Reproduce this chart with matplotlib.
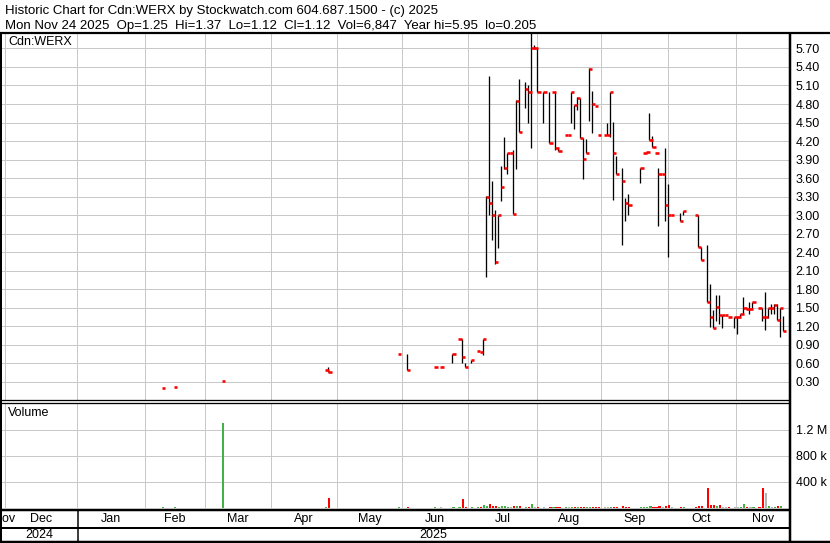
import numpy as np
import matplotlib
matplotlib.use('Agg')
import matplotlib.pyplot as plt
from matplotlib.lines import Line2D

plt.rcParams['font.family'] = ['Liberation Sans', 'DejaVu Sans']
plt.rcParams['font.size'] = 9

# daily bars (only days with trades)
dates = ['2025-02-10', '2025-02-14', '2025-03-10', '2025-04-25', '2025-04-28',
         '2025-05-29', '2025-06-03', '2025-06-16', '2025-06-18', '2025-06-24',
         '2025-06-26', '2025-06-27', '2025-06-30', '2025-07-02', '2025-07-04',
         '2025-07-07', '2025-07-08', '2025-07-09', '2025-07-10', '2025-07-11',
         '2025-07-14', '2025-07-15', '2025-07-16', '2025-07-17', '2025-07-18',
         '2025-07-21', '2025-07-22', '2025-07-23', '2025-07-24', '2025-07-28',
         '2025-07-29', '2025-07-30', '2025-07-31', '2025-08-01', '2025-08-05',
         '2025-08-07', '2025-08-08', '2025-08-11', '2025-08-12', '2025-08-14',
         '2025-08-15', '2025-08-18', '2025-08-19', '2025-08-20', '2025-08-21',
         '2025-08-22', '2025-08-25', '2025-08-26', '2025-08-27', '2025-08-28',
         '2025-08-29', '2025-09-02', '2025-09-03', '2025-09-04', '2025-09-05',
         '2025-09-08', '2025-09-10', '2025-09-11', '2025-09-12', '2025-09-18',
         '2025-09-19', '2025-09-22', '2025-09-23', '2025-09-24', '2025-09-25',
         '2025-09-26', '2025-09-29', '2025-09-30', '2025-10-01', '2025-10-02',
         '2025-10-07', '2025-10-08', '2025-10-14', '2025-10-15', '2025-10-16',
         '2025-10-20', '2025-10-21', '2025-10-22', '2025-10-23', '2025-10-24',
         '2025-10-27', '2025-10-28', '2025-10-29', '2025-10-31', '2025-11-03',
         '2025-11-04', '2025-11-05', '2025-11-06', '2025-11-07', '2025-11-10',
         '2025-11-12', '2025-11-13', '2025-11-14', '2025-11-17', '2025-11-18',
         '2025-11-19', '2025-11-20', '2025-11-21', '2025-11-24']
high = [0.205, 0.21, 0.32, 0.49, 0.54,
        0.745, 0.755, 0.54, 0.54, 0.75,
        1.00, 1.00, 0.60, 0.66, 0.80,
        0.78, 1.00, 3.31, 5.25, 3.55,
        3.08, 3.01, 3.79, 4.26, 4.00,
        4.00, 4.05, 4.86, 5.20, 5.15,
        5.11, 5.95, 5.75, 5.70, 5.00,
        5.00, 5.00, 5.00, 4.09, 4.30,
        4.30, 5.00, 4.78, 4.91, 4.90,
        4.25, 4.24, 5.39, 5.01, 4.77,
        4.30, 4.30, 4.49, 5.00, 4.51,
        3.96, 3.76, 3.27, 3.34, 3.76,
        4.00, 4.02, 4.66, 4.28, 4.00,
        3.76, 3.66, 4.08, 3.51, 3.00,
        3.03, 3.06, 3.00, 3.00, 2.48,
        2.51, 1.89, 1.46, 1.70, 1.70,
        1.38, 1.38, 1.35, 1.35, 1.35,
        1.40, 1.67, 1.48, 1.60, 1.60,
        1.50, 1.50, 1.75, 1.50, 1.56,
        1.56, 1.56, 1.50, 1.37]
low = [0.205, 0.21, 0.32, 0.49, 0.455,
       0.745, 0.49, 0.54, 0.54, 0.60,
       1.00, 0.60, 0.545, 0.60, 0.80,
       0.78, 0.74, 2.00, 3.00, 2.60,
       2.21, 2.47, 3.23, 3.75, 3.66,
       4.00, 3.02, 3.74, 4.34, 4.74,
       4.49, 4.09, 5.70, 5.00, 4.49,
       4.17, 5.00, 4.05, 4.04, 4.30,
       4.30, 4.49, 4.40, 4.70, 4.25,
       3.59, 4.00, 4.53, 4.33, 4.77,
       4.30, 4.30, 4.30, 4.27, 3.25,
       3.67, 2.51, 2.90, 3.00, 3.52,
       4.00, 4.02, 4.21, 4.10, 4.00,
       2.82, 3.66, 2.90, 2.33, 3.00,
       2.90, 3.00, 3.00, 2.48, 2.28,
       1.59, 1.19, 1.17, 1.29, 1.23,
       1.17, 1.38, 1.35, 1.17, 1.07,
       1.35, 1.40, 1.48, 1.40, 1.48,
       1.50, 1.29, 1.14, 1.33, 1.40,
       1.40, 1.30, 1.03, 1.12]
close = [0.205, 0.21, 0.32, 0.49, 0.455,
         0.745, 0.49, 0.54, 0.54, 0.75,
         1.00, 0.70, 0.545, 0.655, 0.80,
         0.78, 1.00, 3.30, 3.20, 3.00,
         2.24, 3.00, 3.46, 3.77, 4.00,
         4.00, 3.02, 4.85, 4.35, 5.05,
         5.00, 5.70, 5.70, 5.00, 5.00,
         4.17, 5.00, 4.09, 4.04, 4.30,
         4.30, 5.00, 4.78, 4.90, 4.25,
         3.91, 4.01, 5.37, 4.80, 4.77,
         4.30, 4.30, 4.30, 5.00, 4.00,
         3.67, 3.55, 3.19, 3.16, 3.76,
         4.00, 4.02, 4.21, 4.10, 4.00,
         3.66, 3.66, 3.16, 3.00, 3.00,
         2.90, 3.06, 3.00, 2.48, 2.28,
         1.59, 1.35, 1.17, 1.51, 1.38,
         1.38, 1.38, 1.35, 1.35, 1.35,
         1.40, 1.50, 1.48, 1.48, 1.60,
         1.50, 1.35, 1.35, 1.50, 1.50,
         1.55, 1.30, 1.50, 1.12]
volume = [14000, 12000, 1300000, 10000, 150000,
          16000, 20000, 14000, 12000, 18000,
          15000, 135000, 18000, 22000, 15000,
          12000, 40000, 35000, 60000, 30000,
          28000, 22000, 30000, 32000, 20000,
          12000, 25000, 35000, 30000, 22000,
          18000, 55000, 12000, 16000, 14000,
          20000, 10000, 22000, 16000, 18000,
          16000, 20000, 18000, 16000, 15000,
          22000, 15000, 18000, 16000, 12000,
          15000, 14000, 15000, 18000, 20000,
          15000, 24000, 18000, 16000, 20000,
          16000, 18000, 25000, 22000, 18000,
          30000, 15000, 25000, 52000, 18000,
          14000, 12000, 15000, 25000, 30000,
          300000, 45000, 40000, 28000, 46000,
          18000, 15000, 15000, 18000, 18000,
          15000, 55000, 15000, 18000, 20000,
          15000, 300000, 235000, 30000, 22000,
          20000, 30000, 25000, 6847]

price_ticks = [0.30, 0.60, 0.90, 1.20, 1.50, 1.80, 2.10, 2.40, 2.70, 3.00,
               3.30, 3.60, 3.90, 4.20, 4.50, 4.80, 5.10, 5.40, 5.70]
vol_ticks = [400000, 800000, 1200000]
vol_labels = ['400 k', '800 k', '1.2 M']

month_starts = ['2024-11-01', '2024-12-01', '2025-01-01', '2025-02-01', '2025-03-01',
                '2025-04-01', '2025-05-01', '2025-06-01', '2025-07-01', '2025-08-01',
                '2025-09-01', '2025-10-01', '2025-11-01', '2025-12-01']
month_names = ['Nov', 'Dec', 'Jan', 'Feb', 'Mar', 'Apr', 'May', 'Jun', 'Jul',
               'Aug', 'Sep', 'Oct', 'Nov']
years = ['2024', '2025']

title1 = 'Historic Chart for Cdn:WERX by Stockwatch.com 604.687.1500 - (c) 2025'
title2 = ('Mon Nov 24 2025  Op=1.25  Hi=1.37  Lo=1.12  Cl=1.12  Vol=6,847  '
          'Year hi=5.95  lo=0.205')

base = np.datetime64('2025-01-01')


def bpos(d):
    # position on a weekday axis; weekend dates fall between two weekdays
    d = np.datetime64(d)
    i = float(np.busday_count(base, d))
    if not np.is_busday(d):
        i -= 0.5
    return i


idx = np.array([bpos(d) for d in dates])
high = np.array(high)
low = np.array(low)
close = np.array(close)
volume = np.array(volume)
grid_x = [bpos(d) for d in month_starts]

chg = np.diff(close, prepend=close[0] - 1)
vcol = np.where(chg > 1e-9, '#44b144', np.where(chg < -1e-9, '#ff0000', '#b4b4b4'))

W, H = 830, 543
X0, X1 = -24.65, 235.4
GRID = '#c8c8c8'
PX = 0.72

fig = plt.figure(figsize=(W / 100, H / 100), dpi=100)


def box(left, top, right, bottom):
    return [left / W, 1 - bottom / H, (right - left) / W, (bottom - top) / H]


def hline(y, x0, x1, lw):
    fig.add_artist(Line2D([x0 / W, x1 / W], [1 - y / H, 1 - y / H],
                          transform=fig.transFigure, color='black', lw=lw * PX,
                          solid_capstyle='butt'))


def vline(x, y0, y1, lw):
    fig.add_artist(Line2D([x / W, x / W], [1 - y0 / H, 1 - y1 / H],
                          transform=fig.transFigure, color='black', lw=lw * PX,
                          solid_capstyle='butt'))


# price panel
axp = fig.add_axes(box(2, 33, 790, 400.4))
axp.set_xlim(X0, X1)
axp.set_ylim(0, 5.95)
for v in price_ticks:
    axp.axhline(v, color=GRID, lw=PX, zorder=0)
for g in grid_x:
    axp.axvline(g, color=GRID, lw=PX, zorder=0)
rng = high > low
axp.vlines(idx[rng], low[rng], high[rng], color='black', lw=1.3 * PX, zorder=2)
axp.hlines(close, idx, idx + 1.1, color='#ff0000', lw=2.6 * PX, zorder=3)
axp.yaxis.tick_right()
axp.set_yticks(price_ticks)
axp.set_yticklabels(['%.2f' % v for v in price_ticks])
axp.set_xticks([])
axp.tick_params(axis='y', length=0, pad=4)
for s in axp.spines.values():
    s.set_visible(False)

# volume panel
axv = fig.add_axes(box(2, 403.5, 790, 508))
axv.set_xlim(X0, X1)
axv.set_ylim(0, 1.6e6)
for v in vol_ticks:
    axv.axhline(v, color=GRID, lw=PX, zorder=0)
for g in grid_x:
    axv.axvline(g, color=GRID, lw=PX, zorder=0)
axv.bar(idx, volume, width=0.7, align='edge', color=vcol, linewidth=0, zorder=2)
axv.yaxis.tick_right()
axv.set_yticks(vol_ticks)
axv.set_yticklabels(vol_labels)
axv.set_xticks([])
axv.tick_params(axis='y', length=0, pad=4)
for s in axv.spines.values():
    s.set_visible(False)

# month / year strip
axm = fig.add_axes(box(2, 510, 790, 541))
axm.set_xlim(X0, X1)
axm.set_ylim(541, 510)
axm.axis('off')
for i, name in enumerate(month_names):
    a = max(grid_x[i], X0)
    b = min(grid_x[i + 1], X1)
    axm.text((a + b) / 2, 519, name, ha='center', va='center', clip_on=True)
axm.text((X0 + 0) / 2, 535, years[0], ha='center', va='center')
axm.text((0 + X1) / 2, 535, years[1], ha='center', va='center')

# frame lines
hline(32.5, 0, W, 2.2)
hline(400.3, 0, 790, 1.3)
hline(403.0, 0, 790, 1.3)
hline(509.5, 0, 790, 2.5)
hline(527.5, 0, 790, 2)
hline(541.5, 0, W, 2.5)
vline(1, 32, 542, 2)
vline(789.5, 32, 542, 2.5)
vline(78, 509, 541, 1.5)

fig.text(5 / W, 1 - 14 / H, title1, va='baseline', fontsize=9.5)
fig.text(5 / W, 1 - 28.5 / H, title2, va='baseline', fontsize=9.5)
fig.text(8 / W, 1 - 42 / H, 'Cdn:WERX', va='center')
fig.text(8 / W, 1 - 413 / H, 'Volume', va='center')

fig.savefig('out.png', dpi=100)
